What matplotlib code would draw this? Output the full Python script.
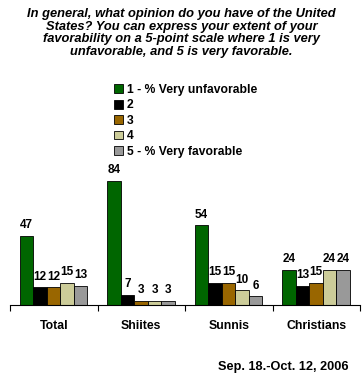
import numpy as np
import matplotlib.pyplot as plt

plt.rcParams['font.family'] = ['Liberation Sans', 'DejaVu Sans']

categories = ['Total', 'Shiites', 'Sunnis', 'Christians']
series_names = ['1 - % Very unfavorable', '2', '3', '4', '5 - % Very favorable']
values = [
    [47, 84, 54, 24],
    [12, 7, 15, 13],
    [12, 3, 15, 15],
    [15, 3, 10, 24],
    [13, 3, 6, 24],
]
colors = ['#006600', '#000000', '#996600', '#CCCC99', '#999999']

fig = plt.figure(figsize=(3.63, 3.80), dpi=100)
ax = fig.add_axes([10 / 363, 75 / 380, 350 / 363, 133 / 380])

n = len(series_names)
bar_w = 0.155
x = np.arange(len(categories))
handles = []
for i in range(n):
    pos = x - 0.39 + bar_w * (i + 0.5)
    bars = ax.bar(pos, values[i], width=bar_w, color=colors[i],
                  edgecolor='black', linewidth=0.6)
    handles.append(bars)
    for b, v in zip(bars, values[i]):
        ax.text(b.get_x() + b.get_width() / 2, v + 3, str(v),
                ha='center', va='bottom', fontsize=8.5, fontweight='bold')

ax.set_xlim(-0.5, len(categories) - 0.5)
ax.set_ylim(0, 90)
ax.set_yticks([])
ax.set_xticks(np.arange(len(categories) + 1) - 0.5)
ax.set_xticklabels([])
ax.tick_params(axis='x', length=4, width=0.8, direction='out')
for i, c in enumerate(categories):
    ax.text(i, -14, c, ha='center', va='center', fontsize=8.8,
            fontweight='bold')
for s in ['top', 'right', 'left']:
    ax.spines[s].set_visible(False)
ax.spines['bottom'].set_linewidth(0.8)

fig.text(0.5, 1 - 33 / 380,
         'In general, what opinion do you have of the United\n'
         'States? You can express your extent of your\n'
         'favorability on a 5-point scale where 1 is very\n'
         'unfavorable, and 5 is very favorable.',
         ha='center', va='center', fontsize=9.3, fontweight='bold',
         style='italic', linespacing=1.1)

leg = fig.legend(handles, series_names, loc='upper left',
                 bbox_to_anchor=(108 / 363, 1 - 78 / 380), frameon=False,
                 fontsize=8.7, handlelength=0.75, handleheight=0.75,
                 handletextpad=0.3, labelspacing=0.28, borderpad=0)
for t in leg.get_texts():
    t.set_fontweight('bold')

fig.text(348 / 363, 1 - 367 / 380, 'Sep. 18.-Oct. 12, 2006', ha='right',
         va='center', fontsize=9.2, fontweight='bold')

fig.savefig('out.png', dpi=100)
